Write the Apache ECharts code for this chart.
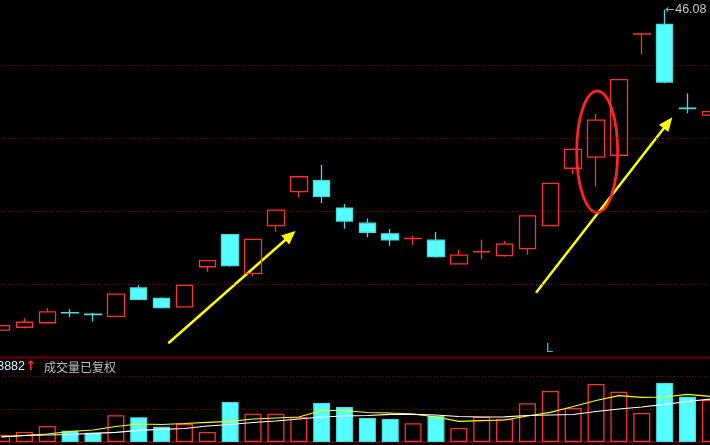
<!DOCTYPE html>
<html><head><meta charset="utf-8">
<script src="https://cdn.jsdelivr.net/npm/echarts@6/dist/echarts.min.js"></script>
<style>html,body{margin:0;padding:0;background:#000;}#c{width:710px;height:445px;}</style>
</head><body><div id="c"></div>
<script>
// ---- data ----
const categories = ['01','02','03','04','05','06','07','08','09','10','11','12','13','14','15','16',
                    '17','18','19','20','21','22','23','24','25','26','27','28','29','30','31','32'];
const openP  = [34.01,34.12,34.29,34.67,34.61,34.53,35.60,35.21,34.89,36.40,37.61,36.15,37.95,39.23,39.64,38.61,
                38.04,37.64,37.46,37.40,36.51,36.96,36.82,37.08,37.95,40.11,40.53,40.60,45.16,45.53,42.37,42.11];
const closeP = [34.18,34.31,34.70,34.66,34.60,35.37,35.17,34.86,35.70,36.63,36.44,37.43,38.53,39.79,39.05,38.12,
                37.70,37.41,37.47,36.78,36.84,36.97,37.25,38.32,39.54,40.82,41.92,43.45,45.17,43.36,42.36,42.24];
const lowP   = [34.01,34.07,34.29,34.50,34.33,34.51,35.14,34.83,34.89,36.21,36.40,36.03,37.72,39.02,38.80,37.83,
                37.51,37.19,37.22,36.74,36.51,36.68,36.78,36.85,37.95,39.88,39.42,40.60,44.40,43.31,42.18,42.11];
const highP  = [34.18,34.46,34.85,34.80,34.66,35.37,35.70,35.25,35.70,36.63,37.61,37.43,38.53,39.79,40.23,38.76,
                38.22,37.82,37.57,37.71,37.03,37.43,37.37,38.32,39.54,40.82,42.15,43.45,45.17,46.08,42.93,42.24];
const volume = [4288,6126,9802,6922,5697,16356,15131,9373,11027,6126,24504,17337,17337,15315,23891,21441,
                14702,14090,11456,16111,8576,15499,14090,23708,31243,20828,35531,30814,17765,36143,27751,25729];
const volMA5 = [3247,3982,4901,6432,7351,9495,11027,10721,11333,12068,12681,14090,14702,15315,19297,19297,
                18072,17765,17153,15315,12681,13048,13477,15928,18194,21747,25423,28363,27383,27567,29221,27873];
const volMA10= [3063,3982,4288,4595,5330,5942,7167,7780,8270,9802,10721,11946,12865,14090,15315,15928,
                16234,16969,16969,16540,15621,15315,15438,16234,16540,16847,18684,20216,21441,23095,24810,26342];
const volLabel = '3882';
const volTitle = '成交量已复权';

// ---- styles ----
const RED = '#ff3030', CYAN = '#55ffff', CYAN_B = '#45dede';
const GRID_LINE = {color: '#8a0000', type: [1, 2], width: 1};

const candleData = categories.map((c, i) => [openP[i], closeP[i], lowP[i], highP[i]]);
const volData = volume.map((v, i) => {
  const up = closeP[i] >= openP[i];
  return {value: v, itemStyle: up
    ? {color: 'rgba(0,0,0,0)', borderColor: RED, borderWidth: 1.3}
    : {color: CYAN, borderColor: CYAN_B, borderWidth: 1.3}};
});

const chart = echarts.init(document.getElementById('c'), null, {renderer: 'canvas'});
chart.setOption({
  backgroundColor: '#000',
  animation: false,
  grid: [
    {left: -9.9, width: 731.7, top: -8, height: 365, outerBoundsMode: 'none', containLabel: false},
    {left: -9.9, width: 731.7, top: 357, height: 85, outerBoundsMode: 'none', containLabel: false}
  ],
  xAxis: [
    {type: 'category', data: categories, gridIndex: 0, boundaryGap: true,
     axisLine: {show: true, onZero: false, lineStyle: {color: '#5c0000', width: 2.5}},
     axisTick: {show: false}, axisLabel: {show: false}, splitLine: {show: false}},
    {type: 'category', data: categories, gridIndex: 1, boundaryGap: true,
     axisLine: {show: true, onZero: false, lineStyle: {color: '#5c0000', width: 2}},
     axisTick: {show: false}, axisLabel: {show: false}, splitLine: {show: false}}
  ],
  yAxis: [
    {type: 'value', gridIndex: 0, min: 33, max: 46.75, interval: 2.75, scale: true,
     axisLine: {show: false}, axisTick: {show: false}, axisLabel: {show: false},
     splitLine: {show: true, showMinLine: false, showMaxLine: false, lineStyle: GRID_LINE}},
    {type: 'value', gridIndex: 1, min: 0, max: 52070, interval: 20000,
     axisLine: {show: false}, axisTick: {show: false}, axisLabel: {show: false},
     splitLine: {show: true, showMinLine: false, showMaxLine: false, lineStyle: GRID_LINE}}
  ],
  series: [
    {type: 'candlestick', xAxisIndex: 0, yAxisIndex: 0, data: candleData, barWidth: 17,
     itemStyle: {color: 'rgba(0,0,0,0)', color0: CYAN, borderColor: RED, borderColor0: CYAN_B, borderWidth: 1.3},
     markPoint: {
       symbol: 'circle', symbolSize: 1, itemStyle: {color: 'rgba(0,0,0,0)'},
       data: [{type: 'max', valueDim: 'highest'}],
       label: {show: true, position: 'right', distance: 0,
         formatter: p => '{a|←}{b|' + Number(p.value).toFixed(2) + '}',
         rich: {a: {color: '#a8a8a8', fontSize: 12, fontFamily: 'DejaVu Sans'},
                b: {color: '#c8c8c8', fontSize: 12.5, fontFamily: 'Liberation Sans'}}}
     }},
    {type: 'bar', xAxisIndex: 1, yAxisIndex: 1, data: volData, barWidth: 17},
    {type: 'line', xAxisIndex: 1, yAxisIndex: 1, data: volMA5, symbol: 'none', z: 5,
     lineStyle: {color: '#ffff00', width: 1.2}},
    {type: 'line', xAxisIndex: 1, yAxisIndex: 1, data: volMA10, symbol: 'none', z: 5,
     lineStyle: {color: '#ffffff', width: 1.2}}
  ],
  graphic: [
    {type: 'line', shape: {x1: 168.3, y1: 343.3, x2: 285.5, y2: 239.8}, style: {stroke: '#ffff00', lineWidth: 2.5}},
    {type: 'polygon', shape: {points: [[295.5, 231], [289.2, 244.6], [281.2, 235.6]]}, style: {fill: '#ffff00'}},
    {type: 'line', shape: {x1: 536, y1: 292.7, x2: 664.2, y2: 127.8}, style: {stroke: '#ffff00', lineWidth: 2.5}},
    {type: 'polygon', shape: {points: [[672.3, 117.3], [668.4, 132.1], [659.0, 124.7]]}, style: {fill: '#ffff00'}},
    {type: 'ellipse', shape: {cx: 597.2, cy: 151.7, rx: 20.5, ry: 60.7},
     style: {fill: 'none', stroke: '#ff2424', lineWidth: 2.8}},
    {type: 'text', x: 546, y: 342, style: {text: 'L', fill: '#1ec8f0', font: '13px "Liberation Sans"'}},
    {type: 'text', x: 25, y: 367, style: {text: volLabel, fill: '#e6ecf4', font: '12.5px "Liberation Sans"', textAlign: 'right', textVerticalAlign: 'middle'}},
    {type: 'text', x: 31, y: 367, style: {text: '↑', fill: '#ff2a2a', font: 'bold 13px "DejaVu Sans"', textAlign: 'center', textVerticalAlign: 'middle'}},
    {type: 'text', x: 44, y: 367, style: {text: volTitle, fill: '#c0c0c0', font: '12px "Noto Sans CJK SC"', textVerticalAlign: 'middle'}}
  ]
});
</script>
</body></html>
